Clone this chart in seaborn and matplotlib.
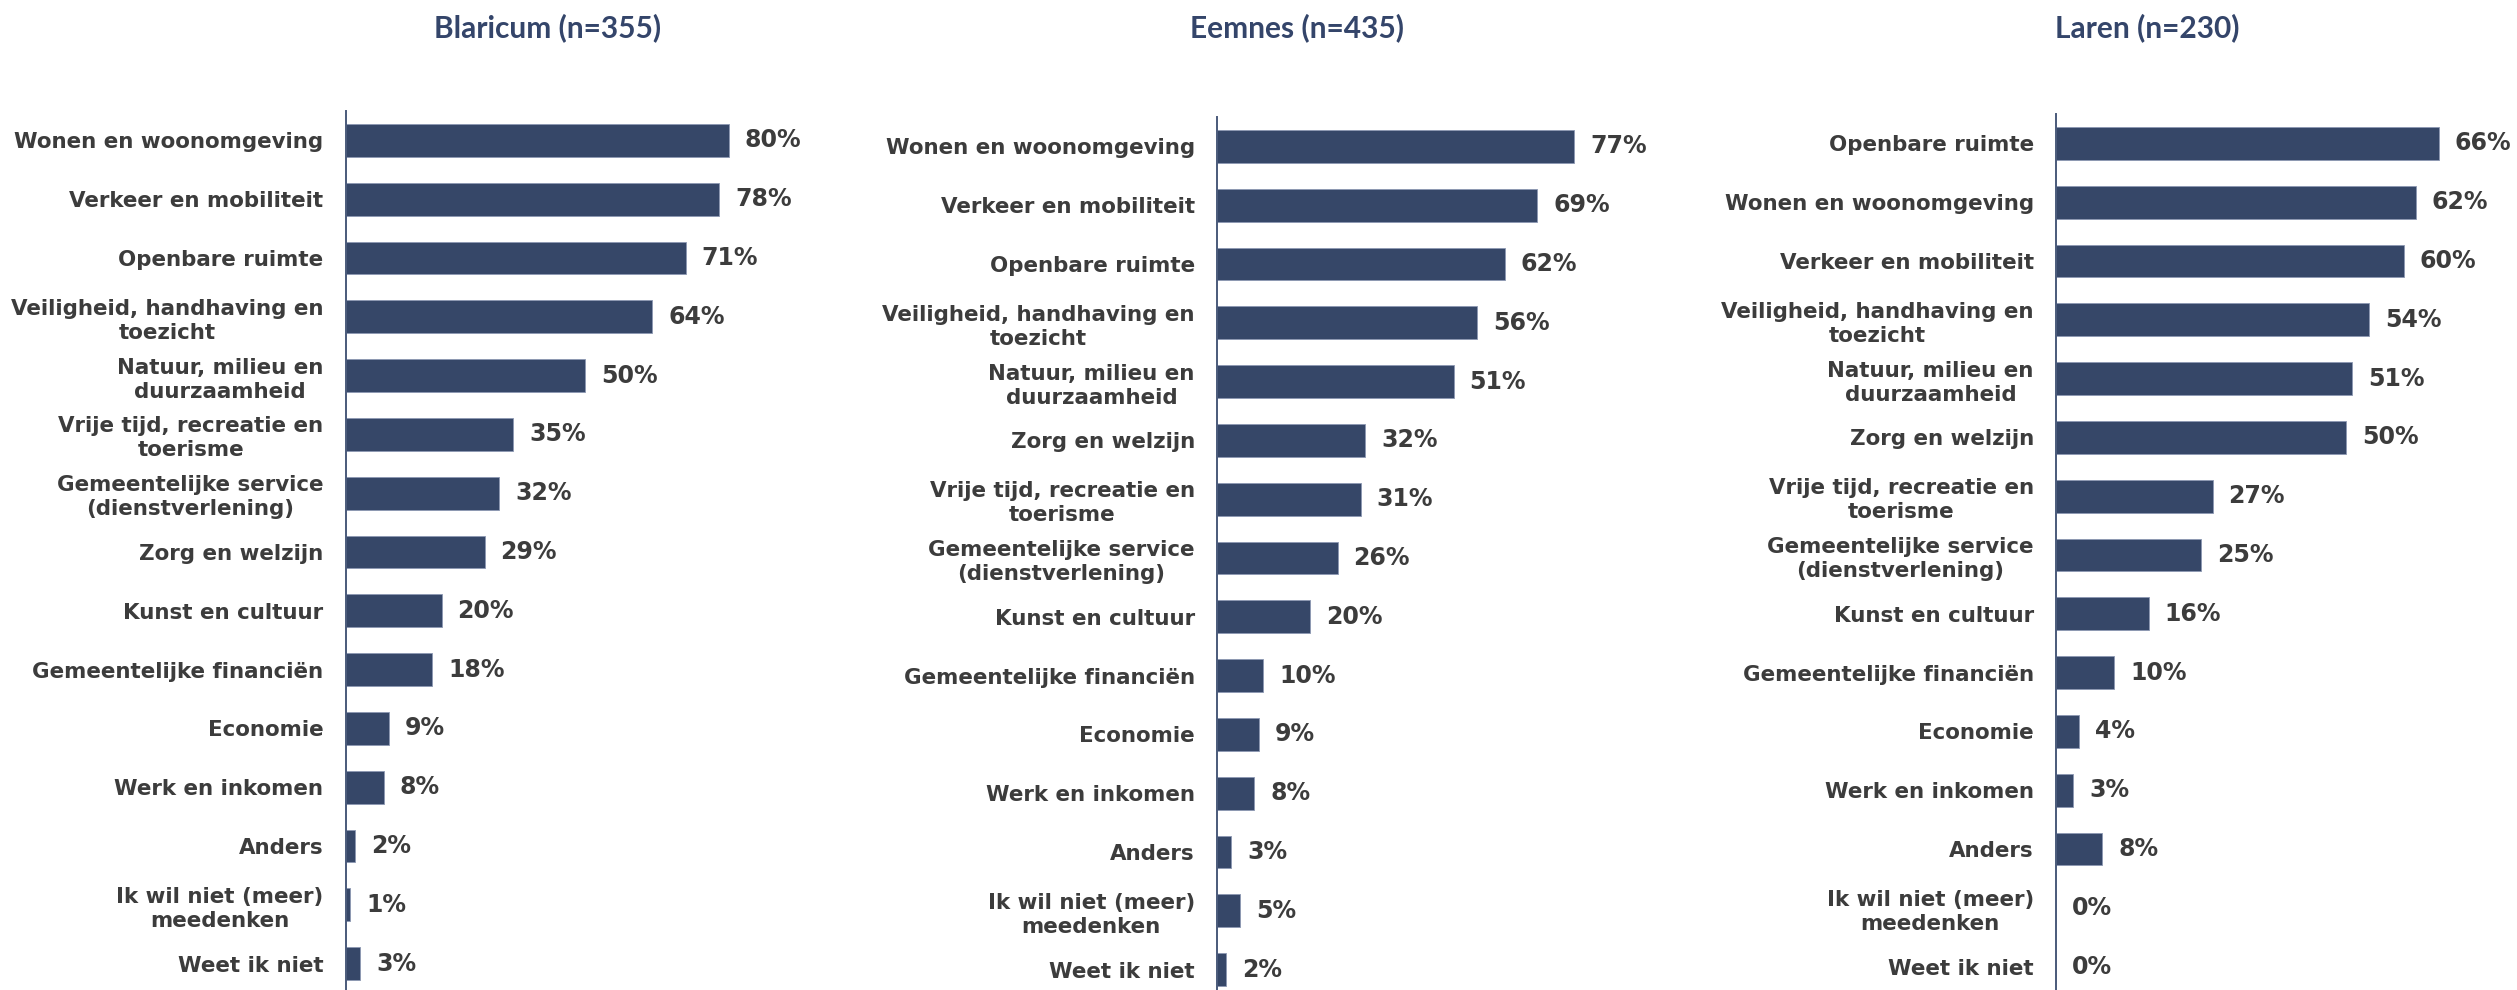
import matplotlib
matplotlib.use("Agg")
import matplotlib.pyplot as plt
import seaborn as sns
import pandas as pd

# ---- data ----
blaricum_cats = ["Wonen en woonomgeving", "Verkeer en mobiliteit", "Openbare ruimte",
                 "Veiligheid, handhaving en\ntoezicht", "Natuur, milieu en\nduurzaamheid",
                 "Vrije tijd, recreatie en\ntoerisme", "Gemeentelijke service\n(dienstverlening)",
                 "Zorg en welzijn", "Kunst en cultuur", "Gemeentelijke financiën", "Economie",
                 "Werk en inkomen", "Anders", "Ik wil niet (meer)\nmeedenken", "Weet ik niet"]
blaricum_vals = [80, 78, 71, 64, 50, 35, 32, 29, 20, 18, 9, 8, 2, 1, 3]

eemnes_cats = ["Wonen en woonomgeving", "Verkeer en mobiliteit", "Openbare ruimte",
               "Veiligheid, handhaving en\ntoezicht", "Natuur, milieu en\nduurzaamheid",
               "Zorg en welzijn", "Vrije tijd, recreatie en\ntoerisme",
               "Gemeentelijke service\n(dienstverlening)", "Kunst en cultuur",
               "Gemeentelijke financiën", "Economie", "Werk en inkomen", "Anders",
               "Ik wil niet (meer)\nmeedenken", "Weet ik niet"]
eemnes_vals = [77, 69, 62, 56, 51, 32, 31, 26, 20, 10, 9, 8, 3, 5, 2]

laren_cats = ["Openbare ruimte", "Wonen en woonomgeving", "Verkeer en mobiliteit",
              "Veiligheid, handhaving en\ntoezicht", "Natuur, milieu en\nduurzaamheid",
              "Zorg en welzijn", "Vrije tijd, recreatie en\ntoerisme",
              "Gemeentelijke service\n(dienstverlening)", "Kunst en cultuur",
              "Gemeentelijke financiën", "Economie", "Werk en inkomen", "Anders",
              "Ik wil niet (meer)\nmeedenken", "Weet ik niet"]
laren_vals = [66, 62, 60, 54, 51, 50, 27, 25, 16, 10, 4, 3, 8, 0, 0]

titles = ["Blaricum (n=355)", "Eemnes (n=435)", "Laren (n=230)"]

# ---- style ----
sns.set_theme(style="white")
plt.rcParams["font.family"] = ["DejaVu Sans"]

BAR = "#364768"
TXT = "#3c3c3c"
TITLE = "#34456a"
AXIS = "#4a5a7a"

W, H = 2517, 990
fig = plt.figure(figsize=(W / 100, H / 100), dpi=100)

panels = [
    (blaricum_cats, blaricum_vals, 345.7, 111, 100, 479, 548),
    (eemnes_cats, eemnes_vals, 1217, 117, 100, 464, 1297),
    (laren_cats, laren_vals, 2056, 114, 75, 435, 2147),
]
ax_h = 882

for (cats, vals, left, top, xmax, width, tcx), title in zip(panels, titles):
    ax = fig.add_axes([left / W, 1 - (top + ax_h) / H, width / W, ax_h / H])
    df = pd.DataFrame({"cat": cats, "val": vals})
    sns.barplot(data=df, x="val", y="cat", order=cats, orient="h", color=BAR,
                width=0.56, saturation=1, edgecolor="#8c98b2", linewidth=0.6, ax=ax)
    ax.set_xlim(0, xmax)
    ax.set_ylim(len(cats) - 0.5, -0.5)
    ax.set_xlabel("")
    ax.set_ylabel("")
    ax.set_xticks([])
    for s in ["top", "right", "bottom"]:
        ax.spines[s].set_visible(False)
    ax.spines["left"].set_color(AXIS)
    ax.spines["left"].set_linewidth(1.4)
    ax.tick_params(axis="y", length=0, pad=16, labelsize=15.4, labelcolor=TXT)
    for lbl in ax.get_yticklabels():
        lbl.set_fontweight("bold")
        lbl.set_multialignment("center")
        lbl.set_linespacing(1.25)
    ax.bar_label(ax.containers[0], labels=[f"{v}%" for v in vals], padding=11.5,
                 fontsize=17, fontweight="bold", color=TXT)
    ax.patch.set_alpha(0)
    fig.text(tcx / W, 1 - 28 / H, title, ha="center", va="center",
             fontsize=21.5, fontweight="bold", color=TITLE, family=["Lato", "DejaVu Sans"])

fig.savefig("out.png", dpi=100)
